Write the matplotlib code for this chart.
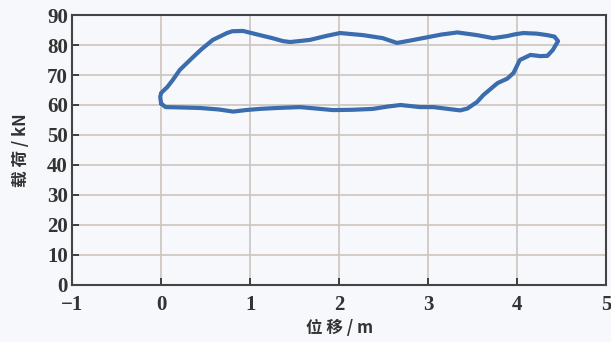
import numpy as np
import matplotlib.pyplot as plt

disp = [0.0, 0.05, 0.2, 0.44, 0.65, 0.81, 0.95, 1.11, 1.3, 1.56, 1.75, 1.93,
        2.15, 2.38, 2.55, 2.69, 2.91, 3.06, 3.25, 3.36, 3.44,
        3.55, 3.62, 3.78, 3.89, 3.96, 4.03, 4.15, 4.26, 4.34, 4.4, 4.46,
        4.42, 4.34, 4.22, 4.07, 3.98, 3.89, 3.73, 3.55, 3.33, 3.15, 2.94,
        2.8, 2.65, 2.49, 2.27, 2.01, 1.85, 1.67, 1.45, 1.37, 1.25, 1.11,
        0.92, 0.8, 0.74, 0.58, 0.45, 0.36, 0.21, 0.13, 0.07, 0.0, -0.01, 0.0]
load = [60.5, 59.3, 59.2, 59.0, 58.5, 57.8, 58.3, 58.7, 59.0, 59.3, 58.8, 58.3,
        58.4, 58.7, 59.5, 60.0, 59.3, 59.3, 58.6, 58.2, 58.8,
        61.0, 63.3, 67.3, 68.8, 70.7, 75.0, 76.7, 76.3, 76.4, 78.3, 81.3,
        82.8, 83.3, 83.8, 84.0, 83.6, 83.0, 82.3, 83.3, 84.2, 83.5, 82.3,
        81.5, 80.7, 82.3, 83.3, 84.0, 83.0, 81.7, 81.0, 81.3, 82.3, 83.3,
        84.7, 84.6, 84.0, 81.7, 78.5, 76.0, 71.7, 68.3, 66.0, 64.0, 62.7, 60.5]

xticks = [-1, 0, 1, 2, 3, 4, 5]
yticks = [0, 10, 20, 30, 40, 50, 60, 70, 80, 90]

bg = '#f6f8fb'
fig = plt.figure(figsize=(6.11, 3.42), dpi=100, facecolor=bg)

ax = fig.add_axes([0.118, 0.167, 0.874, 0.789])
ax.set_facecolor(bg)
ax.plot(disp, load, color='#3b6cae', lw=3.0, solid_joinstyle='round',
        solid_capstyle='round', zorder=3)

ax.set_xlim(-1, 5)
ax.set_ylim(0, 90)
ax.set_xticks(xticks)
ax.set_yticks(yticks)
ax.set_xticklabels(['\u2212' + str(-t) if t < 0 else str(t) for t in xticks])
ax.grid(True, color='#cdc4bd', lw=1.2)
ax.tick_params(direction='in', length=5, width=1.3, color='#333333',
               labelsize=15, pad=3)
ax.tick_params(axis='x', pad=7)
for lab in ax.get_xticklabels() + ax.get_yticklabels():
    lab.set_family('Liberation Serif')
    lab.set_fontweight('bold')
    lab.set_color('#333333')
for s in ax.spines.values():
    s.set_color('#444444')
    s.set_linewidth(1.5)

ax.set_xlabel('位 移 / m', family=['Noto Sans CJK SC', 'DejaVu Sans'],
              fontsize=12, fontweight='bold', color='#333333', labelpad=3)
ax.set_ylabel('载 荷 / kN', family=['Noto Sans CJK SC', 'DejaVu Sans'],
              fontsize=12, fontweight='bold', color='#333333', labelpad=12)

plt.savefig('out.png', dpi=100, facecolor=bg)
